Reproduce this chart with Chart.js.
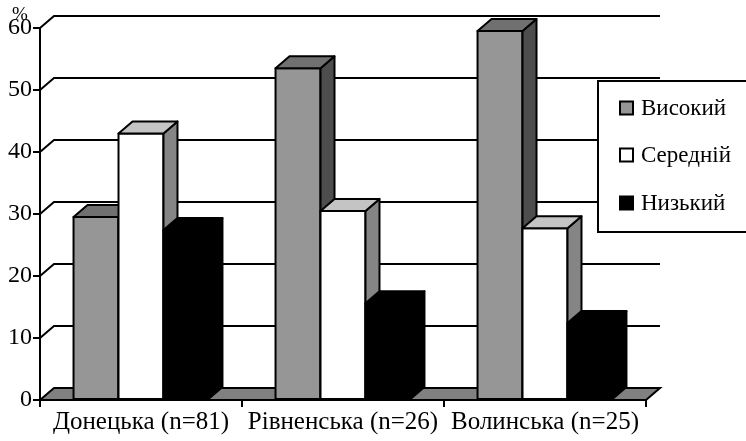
<!DOCTYPE html>
<html>
<head>
<meta charset="utf-8">
<script src="https://cdn.jsdelivr.net/npm/chart.js@4/dist/chart.umd.min.js"></script>
<style>
  html, body { margin: 0; padding: 0; background: #fff; }
  #wrap { width: 746px; height: 441px; }
</style>
</head>
<body>
<div id="wrap"><canvas id="mainGraph"></canvas></div>
<script>
const categories = ['Донецька (n=81)', 'Рівненська (n=26)', 'Волинська (n=25)'];
const seriesNames = ['Високий', 'Середній', 'Низький'];
const highValues = [29.5, 53.5, 59.5];
const midValues = [43, 30.5, 27.7];
const lowValues = [27.4, 15.6, 12.4];

// front / top / side shades for each series
const frontColors = ['#969696', '#ffffff', '#000000'];
const topColors = ['#707070', '#c4c4c4', '#000000'];
const sideColors = ['#4d4d4d', '#858585', '#000000'];

const DX = 14, DY = -12;
const FONT = "'Liberation Serif', serif";

function face(ctx, pts, fill) {
  ctx.beginPath();
  ctx.moveTo(pts[0][0], pts[0][1]);
  for (let i = 1; i < pts.length; i++) ctx.lineTo(pts[i][0], pts[i][1]);
  ctx.closePath();
  ctx.fillStyle = fill;
  ctx.fill();
  ctx.stroke();
}

const depth3d = {
  id: 'depth3d',
  beforeDatasetsDraw(chart) {
    const ctx = chart.ctx;
    const a = chart.chartArea;
    const y = chart.scales.y;
    ctx.save();
    ctx.strokeStyle = '#000';
    ctx.lineWidth = 2;
    y.ticks.forEach(t => {
      if (t.value === 0) return;
      const py = y.getPixelForValue(t.value);
      ctx.beginPath();
      ctx.moveTo(a.left, py);
      ctx.lineTo(a.left + DX, py + DY);
      ctx.lineTo(a.right + DX, py + DY);
      ctx.stroke();
    });
    // floor
    const b = y.getPixelForValue(0);
    face(ctx, [[a.left, b], [a.left + DX, b + DY], [a.right + DX, b + DY], [a.right, b]], '#808080');
    ctx.restore();
  },
  afterDatasetsDraw(chart) {
    // draw boxes left to right so each side face is hidden by the next bar
    const ctx = chart.ctx;
    ctx.save();
    ctx.strokeStyle = '#000';
    ctx.lineWidth = 2;
    ctx.lineJoin = 'round';
    categories.forEach((c, ci) => {
      chart.data.datasets.forEach((ds, i) => {
        const bar = chart.getDatasetMeta(i).data[ci];
        const l = bar.x - bar.width / 2, r = bar.x + bar.width / 2;
        const t = bar.y, bs = bar.base;
        face(ctx, [[l, t], [r, t], [r, bs], [l, bs]], frontColors[i]);
        face(ctx, [[r, t], [r + DX, t + DY], [r + DX, bs + DY], [r, bs]], sideColors[i]);
        face(ctx, [[l, t], [l + DX, t + DY], [r + DX, t + DY], [r, t]], topColors[i]);
      });
    });
    ctx.restore();
  },
  afterDraw(chart) {
    const ctx = chart.ctx;
    ctx.save();
    // legend box
    ctx.fillStyle = '#fff';
    ctx.strokeStyle = '#000';
    ctx.lineWidth = 2;
    ctx.fillRect(598, 81, 160, 151);
    ctx.strokeRect(598, 81, 160, 151);
    const rows = [108, 155, 203];
    ctx.font = '23px ' + FONT;
    ctx.textBaseline = 'middle';
    seriesNames.forEach((name, k) => {
      ctx.fillStyle = frontColors[k];
      ctx.fillRect(620, rows[k] - 6.5, 13, 13);
      ctx.strokeRect(620, rows[k] - 6.5, 13, 13);
      ctx.fillStyle = '#000';
      ctx.fillText(name, 641, rows[k] + 1);
    });
    // unit label
    ctx.font = '19px ' + FONT;
    ctx.textBaseline = 'alphabetic';
    ctx.fillText('%', 12, 20);
    ctx.restore();
  }
};

const data = {
  labels: categories,
  datasets: [
    { label: seriesNames[0], data: highValues, backgroundColor: frontColors[0] },
    { label: seriesNames[1], data: midValues, backgroundColor: frontColors[1] },
    { label: seriesNames[2], data: lowValues, backgroundColor: frontColors[2] }
  ]
};

new Chart(document.getElementById('mainGraph').getContext('2d'), {
  type: 'bar',
  data: data,
  plugins: [depth3d],
  options: {
    responsive: true,
    maintainAspectRatio: false,
    animation: false,
    layout: { padding: { top: 28, right: 100, left: 0, bottom: 0 } },
    datasets: {
      bar: {
        borderWidth: 0,
        barPercentage: 1,
        categoryPercentage: 0.668
      }
    },
    plugins: {
      legend: { display: false },
      tooltip: { enabled: false }
    },
    scales: {
      x: {
        afterFit(scale) { scale.height = 41; },
        grid: { drawOnChartArea: false, tickLength: 7, color: '#000', lineWidth: 2 },
        border: { display: true, color: '#000', width: 2 },
        ticks: { color: '#000', font: { family: FONT, size: 25 }, padding: 0, maxRotation: 0 }
      },
      y: {
        min: 0,
        max: 60,
        afterFit(scale) { scale.width = 40; },
        grid: { drawOnChartArea: false, tickLength: 7, color: '#000', lineWidth: 2 },
        border: { display: true, color: '#000', width: 2 },
        ticks: { stepSize: 10, color: '#000', font: { family: FONT, size: 24 }, padding: 1 }
      }
    }
  }
});
</script>
</body>
</html>
